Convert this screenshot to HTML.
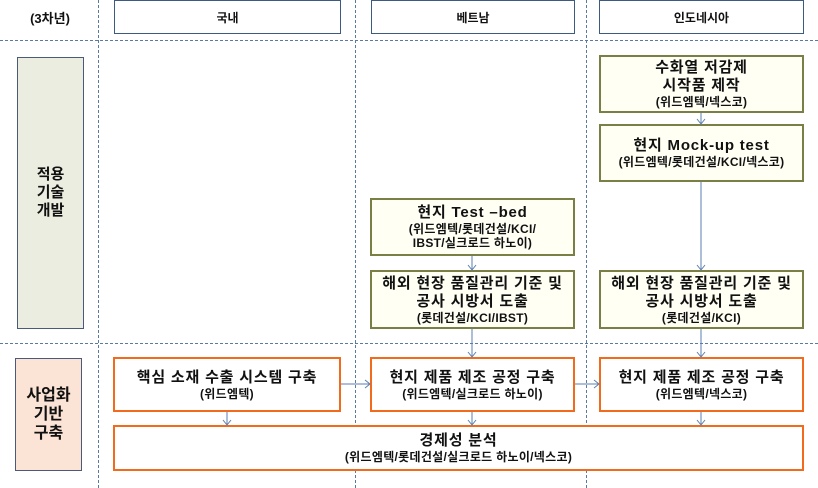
<!DOCTYPE html>
<html><head><meta charset="utf-8"><style>
body{margin:0;width:818px;height:488px;background:#fff;position:relative;overflow:hidden;font-family:"Liberation Sans","Noto Sans CJK KR",sans-serif;color:#111}
.b{position:absolute;box-sizing:border-box;display:flex;flex-direction:column;justify-content:center;align-items:center;text-align:center;font-weight:bold;white-space:nowrap}
.h{border:1px solid #3d5a80;background:#fff;font-size:12px}
.g{border:2px solid #7a7f45;background:#fffff4;font-size:15px;line-height:18px;letter-spacing:0.8px}
.o{border:2.5px solid #f26b1d;background:#fff;font-size:15px;line-height:18px;letter-spacing:0.8px}
.s{font-size:12px;line-height:14px;letter-spacing:0.3px}
.vl{position:absolute;top:0;height:488px;border-left:1px dashed #5a7aa0}
.hl{position:absolute;left:0;width:818px;border-top:1px dashed #5a7aa0}
svg{position:absolute;left:0;top:0}
</style></head><body>
<div class="vl" style="left:98px"></div>
<div class="vl" style="left:355px"></div>
<div class="vl" style="left:586px"></div>
<div class="hl" style="top:40px"></div>
<div class="hl" style="top:343px"></div>
<div class="b" style="left:20px;top:6px;width:60px;height:22px;font-size:13px">(3차년)</div>
<div class="b h" style="left:114px;top:0;width:227px;height:34px">국내</div>
<div class="b h" style="left:371px;top:0;width:204px;height:34px">베트남</div>
<div class="b h" style="left:599px;top:0;width:205px;height:34px">인도네시아</div>
<div class="b" style="left:17px;top:57px;width:67px;height:272px;border:1px solid #4a5a7a;background:#eaeddf;font-size:15px;line-height:18px">적용<br>기술<br>개발</div>
<div class="b" style="left:15px;top:358px;width:67px;height:113px;border:1px solid #4a5a7a;background:#fbe4d6;font-size:16px;line-height:19px">사업화<br>기반<br>구축</div>
<div class="b g" style="left:599px;top:55px;width:205px;height:58px">수화열 저감제<br>시작품 제작<span class="s">(위드엠텍/넥스코)</span></div>
<div class="b g" style="left:599px;top:124px;width:205px;height:58px">현지 Mock-up test<span class="s">(위드엠텍/롯데건설/KCI/넥스코)</span></div>
<div class="b g" style="left:370px;top:198px;width:205px;height:58px">현지 Test –bed<span class="s">(위드엠텍/롯데건설/KCI/<br>IBST/실크로드 하노이)</span></div>
<div class="b g" style="left:370px;top:270px;width:205px;height:59px">해외 현장 품질관리 기준 및<br>공사 시방서 도출<span class="s">(롯데건설/KCI/IBST)</span></div>
<div class="b g" style="left:599px;top:270px;width:205px;height:59px">해외 현장 품질관리 기준 및<br>공사 시방서 도출<span class="s">(롯데건설/KCI)</span></div>
<div class="b o" style="left:113px;top:357px;width:228px;height:55px">핵심 소재 수출 시스템 구축<span class="s">(위드엠텍)</span></div>
<div class="b o" style="left:370px;top:357px;width:205px;height:55px">현지 제품 제조 공정 구축<span class="s">(위드엠텍/실크로드 하노이)</span></div>
<div class="b o" style="left:599px;top:357px;width:205px;height:55px">현지 제품 제조 공정 구축<span class="s">(위드엠텍/넥스코)</span></div>
<div class="b o" style="left:113px;top:425px;width:691px;height:46px">경제성 분석<span class="s">(위드엠텍/롯데건설/실크로드 하노이/넥스코)</span></div>
<svg width="818" height="488" fill="none" stroke="#5b7fb0" stroke-width="1">
<path d="M701 113V124M697 119L701 124L705 119"/>
<path d="M701 182V270M697 265L701 270L705 265"/>
<path d="M472 256V270M468 265L472 270L476 265"/>
<path d="M472 329V357M468 352L472 357L476 352"/>
<path d="M701 329V357M697 352L701 357L705 352"/>
<path d="M341 384H370M365 380L370 384L365 388"/>
<path d="M575 384H599M594 380L599 384L594 388"/>
<path d="M227 412V425M223 420L227 425L231 420"/>
<path d="M472 412V425M468 420L472 425L476 420"/>
<path d="M701 412V425M697 420L701 425L705 420"/>
</svg>
</body></html>
